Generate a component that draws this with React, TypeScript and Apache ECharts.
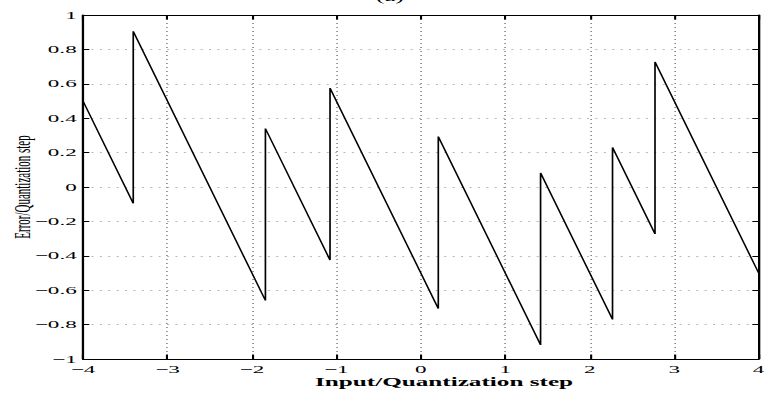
import React, { useEffect, useRef } from "react";
import * as echarts from "echarts";

// Data (error / quantization step vs input / quantization step)
const inputX: number[] = [
  -4, -3.405, -3.405, -1.84, -1.84, -1.075, -1.075, 0.207, 0.207,
  1.418, 1.418, 2.27, 2.27, 2.773, 2.773, 4,
];
const errorY: number[] = [
  0.5, -0.095, 0.905, -0.66, 0.34, -0.425, 0.575, -0.707, 0.293,
  -0.918, 0.082, -0.77, 0.23, -0.273, 0.727, -0.5,
];
const xTicks = { min: -4, max: 4, interval: 1 };
const yTicks = { min: -1, max: 1, interval: 0.2 };
const titleText = "(a)";
const xName = "Input/Quantization step";
const yName = "Error/Quantization step";

// The reference is a horizontally stretched figure
const S = 2.1;
const W = 770 / S;
const H = 393;
const FONT = "'Liberation Serif', 'Times New Roman', serif";

const fmt = (v: number) => {
  const r = Math.round(v * 10) / 10;
  return String(r).replace("-", "\u2212");
};

export default function App() {
  const ref = useRef<HTMLDivElement>(null);

  useEffect(() => {
    document.documentElement.style.overflow = "hidden";
    if (!ref.current) return;
    const chart = echarts.init(ref.current, null, { renderer: "svg" });
    const gridLine = {
      show: true,
      lineStyle: { color: "#777", width: 0.7, type: [1, 3] as any },
    };
    const axisLine = { show: true, onZero: false, lineStyle: { color: "#000", width: 1.1 } };
    const tick = (len: number) => ({
      show: true,
      inside: true,
      length: len,
      lineStyle: { color: "#000", width: 1 },
    });
    chart.setOption({
      animation: false,
      backgroundColor: "#fff",
      grid: {
        left: 83 / S,
        right: W - 760 / S,
        top: 15,
        bottom: 34,
        containLabel: false,
      },
      xAxis: [
        {
          type: "value",
          min: xTicks.min,
          max: xTicks.max,
          interval: xTicks.interval,
          position: "bottom",
          axisLine,
          axisTick: tick(4.5),
          axisLabel: {
            show: true,
            margin: 5,
            color: "#000",
            fontFamily: FONT,
            fontSize: 11,
            formatter: fmt,
          },
          splitLine: gridLine,
        },
        {
          type: "value",
          min: xTicks.min,
          max: xTicks.max,
          interval: xTicks.interval,
          position: "top",
          axisLine,
          axisTick: tick(4.5),
          axisLabel: { show: false },
          splitLine: { show: false },
        },
      ],
      yAxis: [
        {
          type: "value",
          min: yTicks.min,
          max: yTicks.max,
          interval: yTicks.interval,
          position: "left",
          axisLine,
          axisTick: tick(3),
          axisLabel: {
            show: true,
            margin: 3,
            color: "#000",
            fontFamily: FONT,
            fontSize: 11,
            formatter: fmt,
          },
          splitLine: gridLine,
        },
        {
          type: "value",
          min: yTicks.min,
          max: yTicks.max,
          interval: yTicks.interval,
          position: "right",
          axisLine,
          axisTick: tick(3),
          axisLabel: { show: false },
          splitLine: { show: false },
        },
      ],
      graphic: [
        {
          type: "text",
          x: 390 / S,
          y: 3,
          style: {
            text: titleText,
            fill: "#000",
            font: `12px ${FONT}`,
            align: "center",
            verticalAlign: "bottom",
          },
        },
        {
          type: "text",
          x: 444 / S,
          y: 382,
          style: {
            text: xName,
            fill: "#000",
            font: `bold 12px ${FONT}`,
            align: "center",
            verticalAlign: "middle",
          },
        },
        {
          type: "text",
          x: 10.5,
          y: 187,
          rotation: Math.PI / 2,
          style: {
            text: yName,
            fill: "#000",
            font: `11px ${FONT}`,
            align: "center",
            verticalAlign: "middle",
          },
        },
      ],
      series: [
        {
          type: "line",
          xAxisIndex: 0,
          yAxisIndex: 0,
          data: inputX.map((x, i) => [x, errorY[i]]),
          showSymbol: false,
          symbol: "none",
          lineStyle: { color: "#000", width: 0.8 },
          silent: true,
        },
      ],
    });
    return () => chart.dispose();
  }, []);

  return (
    <div
      ref={ref}
      style={{
        position: "absolute",
        left: 0,
        top: 0,
        width: W,
        height: H,
        transform: `scaleX(${S})`,
        transformOrigin: "0 0",
      }}
    />
  );
}
